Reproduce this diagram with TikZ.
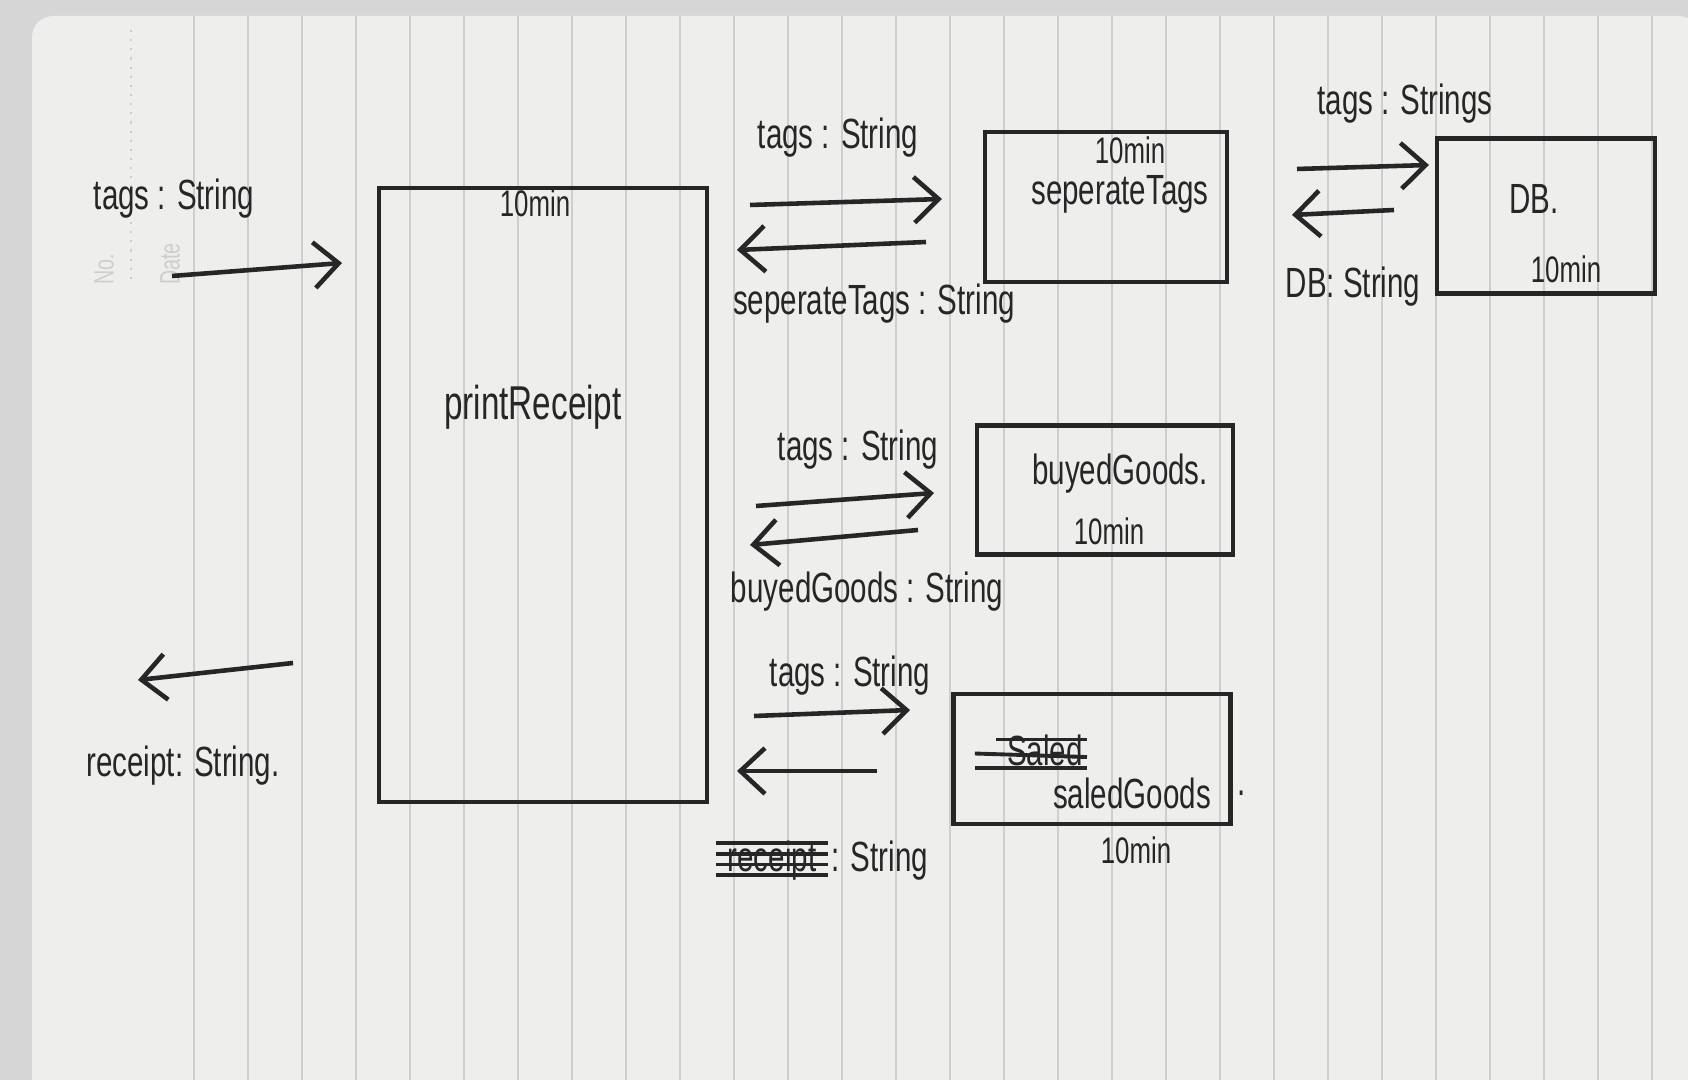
\documentclass[tikz,border=0pt]{standalone}
\usepackage{fontspec}
\setmainfont{Liberation Sans}[FakeStretch=0.7]
\usetikzlibrary{arrows.meta, positioning}
\definecolor{inkgray}{RGB}{38,38,38}
\definecolor{paperwhite}{RGB}{238,238,236}
\definecolor{deskgray}{RGB}{214,214,214}
\definecolor{rulegray}{RGB}{206,206,206}
\tikzset{
  box/.style={draw=inkgray, line width=1.3pt, inner sep=0pt},
  flow/.style={draw=inkgray, line width=1.3pt, -{Straight Barb[length=7pt,width=13pt]}},
  lbl/.style={text=inkgray, font=\fontsize{12}{14}\selectfont, inner sep=1pt},
  mins/.style={text=inkgray, font=\fontsize{10.5}{12}\selectfont, inner sep=1pt},
  strike/.style={draw=inkgray, line width=1.1pt}
}

\begin{document}
\begin{tikzpicture}[x=0.01cm, y=-0.01cm]
    \useasboundingbox (0,0) rectangle (1688,1080);

    % Paper
    \fill[deskgray] (0,0) rectangle (1688,1080);
    \fill[paperwhite, rounded corners=6pt] (32,16) rectangle (1700,1100);
    \foreach \xr in {194,248,...,1688}
        \draw[rulegray, line width=0.5pt] (\xr,16) -- (\xr,1080);
    \draw[rulegray, dotted, line width=0.6pt] (131,30) -- (131,285);
    \node[rulegray, rotate=90, font=\footnotesize] (nomark) at (104,269) {No.};
    \node[rulegray, rotate=90, font=\footnotesize] (datemark) at (170,264) {Date};

    % printReceipt
    \node[box, minimum width=3.28cm, minimum height=6.14cm] (printbox) at (543,495) {};
    \node[lbl, font=\fontsize{13.5}{15}\selectfont] (printname) at (533,407) {printReceipt};
    \node[mins] (printtime) at (535,203) {10min};

    % Input and output
    \node[lbl] (inlabel) at (174,199) {tags : String};
    \coordinate (ina) at (172,276);
    \coordinate (inb) at (342,263);
    \draw[flow] (ina) -- (inb);
    \coordinate (outa) at (293,663);
    \coordinate (outb) at (138,680);
    \draw[flow] (outa) -- (outb);
    \node[lbl] (outlabel) at (183,766) {receipt: String.};

    % seperateTags
    \node[box, minimum width=2.42cm, minimum height=1.50cm] (sepbox) at (1106,207) {};
    \node[lbl] (sepname) at (1120,194) {seperateTags};
    \node[mins] (septime) at (1130,150) {10min};
    \node[lbl] (septo) at (838,138) {tags : String};
    \coordinate (sepa) at (750,205);
    \coordinate (sepb) at (942,199);
    \draw[flow] (sepa) -- (sepb);
    \coordinate (sepc) at (926,242);
    \coordinate (sepd) at (737,250);
    \draw[flow] (sepc) -- (sepd);
    \node[lbl] (sepback) at (874,304) {seperateTags : String};

    % DB
    \node[box, minimum width=2.18cm, minimum height=1.55cm] (dbbox) at (1546,216) {};
    \node[lbl] (dbname) at (1534,199) {DB.};
    \node[mins] (dbtime) at (1566,269) {10min};
    \node[lbl] (dbto) at (1405,104) {tags : Strings};
    \coordinate (dba) at (1297,169);
    \coordinate (dbb) at (1429,165);
    \draw[flow] (dba) -- (dbb);
    \coordinate (dbc) at (1394,210);
    \coordinate (dbd) at (1292,215);
    \draw[flow] (dbc) -- (dbd);
    \node[lbl] (dbback) at (1353,287) {DB: String};

    % buyedGoods
    \node[box, minimum width=2.56cm, minimum height=1.29cm] (buybox) at (1105,490) {};
    \node[lbl] (buyname) at (1120,474) {buyedGoods.};
    \node[mins] (buytime) at (1109,531) {10min};
    \node[lbl] (buyto) at (858,450) {tags : String};
    \coordinate (buya) at (756,506);
    \coordinate (buyb) at (934,493);
    \draw[flow] (buya) -- (buyb);
    \coordinate (buyc) at (918,530);
    \coordinate (buyd) at (750,545);
    \draw[flow] (buyc) -- (buyd);
    \node[lbl] (buyback) at (867,592) {buyedGoods : String};

    % saledGoods
    \node[box, minimum width=2.77cm, minimum height=1.30cm] (salebox) at (1092,759) {};
    \node[lbl] (saleold) at (1045,750) {Saled};
    \draw[strike] ([xshift=-8pt, yshift=-1pt]saleold.west) -- ([yshift=-2pt]saleold.east);
    \draw[strike] ([xshift=-8pt, yshift=-5pt]saleold.west) -- ([yshift=-5pt]saleold.east);
    \draw[strike] ([xshift=-2pt, yshift=3pt]saleold.west) -- ([yshift=3pt]saleold.east);
    \node[lbl] (salename) at (1132,793) {saledGoods};
    \node[lbl, anchor=west] (saledot) at (salebox.east |- salename.east) {.};
    \node[mins] (saletime) at (1136,850) {10min};
    \node[lbl] (saleto) at (850,676) {tags : String};
    \coordinate (salea) at (754,716);
    \coordinate (saleb) at (910,710);
    \draw[flow] (salea) -- (saleb);
    \coordinate (salec) at (877,771);
    \coordinate (saled) at (737,771);
    \draw[flow] (salec) -- (saled);
    \node[lbl] (saleback) at (772,861) {receipt};
    \foreach \dy in {-4,-1,2,5}
        \draw[strike] ([xshift=-2pt, yshift=\dy pt]saleback.west) -- ([xshift=2pt, yshift=\dy pt]saleback.east);
    \node[lbl, right=2pt of saleback] (saletype) {: String};
\end{tikzpicture}
\end{document}
